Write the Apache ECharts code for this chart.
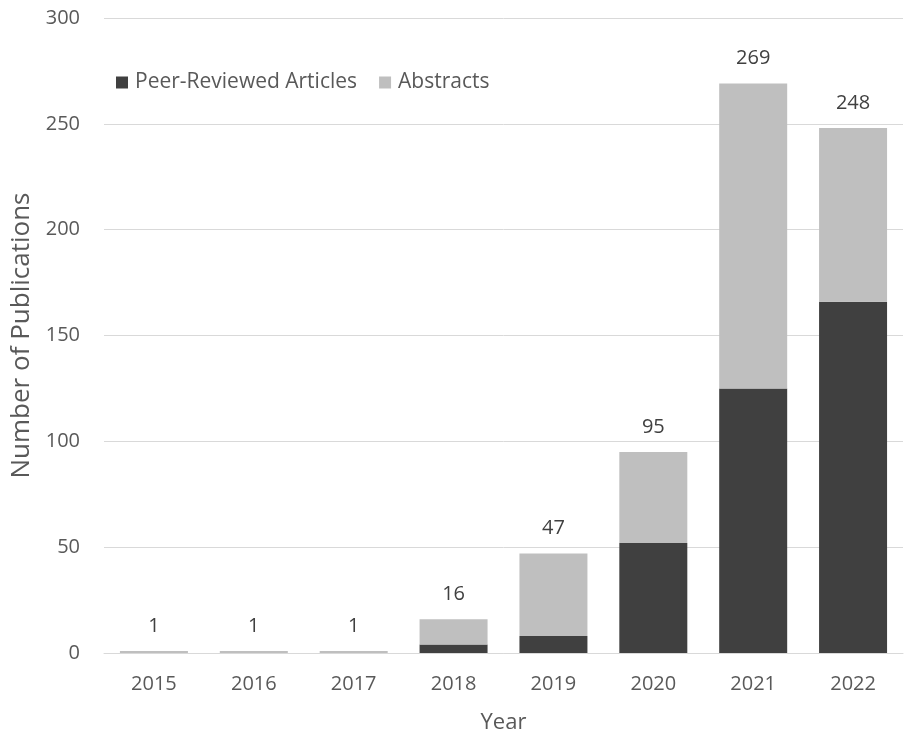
<!DOCTYPE html>
<html><head><meta charset="utf-8">
<script src="https://cdn.jsdelivr.net/npm/echarts@6/dist/echarts.min.js"></script>
<style>html,body{margin:0;padding:0;background:#fff}#c{width:907px;height:734px}</style>
</head><body><div id="c"></div>
<script>
const years = ['2015','2016','2017','2018','2019','2020','2021','2022'];
const peerReviewed = [0, 0, 0, 4, 8, 52, 125, 166];
const abstracts = [1, 1, 1, 12, 39, 43, 144, 82];
const yTicks = {min: 0, max: 300, interval: 50};

const totals = years.map((_, i) => peerReviewed[i] + abstracts[i]);
const font = '"Open Sans", "DejaVu Sans", sans-serif';
const txt = '#595959';
const chart = echarts.init(document.getElementById('c'));
chart.setOption({
  animation: false,
  textStyle: {fontFamily: font},
  grid: {left: 104, right: 4, top: 18, bottom: 81, containLabel: false, outerBoundsMode: 'none'},
  legend: {
    left: 111, top: 67, itemWidth: 12, itemHeight: 12, itemGap: 22,
    icon: 'rect',
    textStyle: {fontSize: 21, color: txt, fontFamily: font, padding: [0,0,0,2]},
    data: ['Peer-Reviewed Articles', 'Abstracts']
  },
  xAxis: {
    type: 'category', data: years,
    name: 'Year', nameLocation: 'middle', nameGap: 59,
    nameTextStyle: {fontSize: 22, color: txt},
    axisLine: {lineStyle: {color: '#d9d9d9', width: 1}},
    axisTick: {show: false},
    axisLabel: {fontSize: 20, color: txt, margin: 21}
  },
  yAxis: {
    type: 'value', min: yTicks.min, max: yTicks.max, interval: yTicks.interval,
    name: 'Number of Publications', nameLocation: 'middle', nameGap: 62,
    nameTextStyle: {fontSize: 26, color: txt},
    axisLine: {show: false}, axisTick: {show: false},
    axisLabel: {fontSize: 20, color: txt, margin: 24},
    splitLine: {lineStyle: {color: '#d9d9d9', width: 1}}
  },
  series: [
    {name: 'Peer-Reviewed Articles', type: 'bar', stack: 'a', data: peerReviewed,
     barWidth: 68, itemStyle: {color: '#404040'}},
    {name: 'Abstracts', type: 'bar', stack: 'a', data: abstracts,
     barWidth: 68, itemStyle: {color: '#bfbfbf'},
     label: {show: true, position: 'top', distance: 15, fontSize: 20, color: '#404040',
       formatter: p => String(totals[p.dataIndex])}}
  ]
});
</script></body></html>
